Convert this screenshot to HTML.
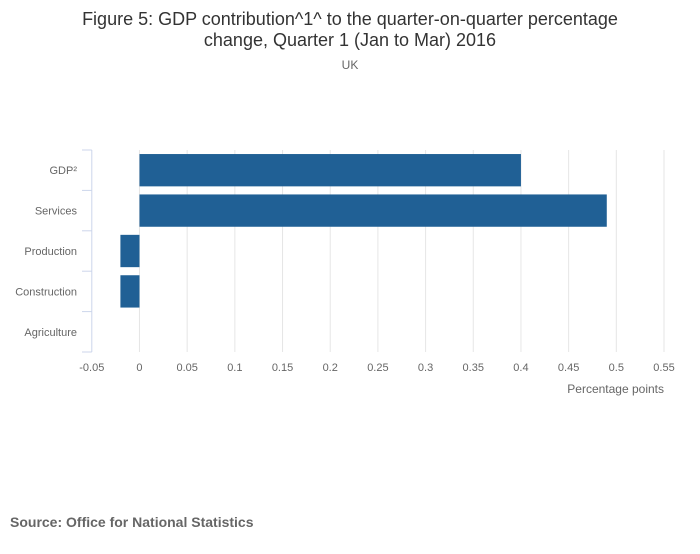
<!DOCTYPE html>
<html><head><meta charset="utf-8"><style>
body{margin:0;background:#fff;font-family:"Liberation Sans",sans-serif}
</style></head><body>
<svg width="700" height="549" xmlns="http://www.w3.org/2000/svg">
<text x="350" y="25" text-anchor="middle" font-size="18" fill="#333">Figure 5: GDP contribution^1^ to the quarter-on-quarter percentage</text>
<text x="350" y="46" text-anchor="middle" font-size="18" fill="#333">change, Quarter 1 (Jan to Mar) 2016</text>
<text x="350" y="69" text-anchor="middle" font-size="12" fill="#666">UK</text>
<g id="grid"></g><g id="bars"></g><g id="axes"></g>
<text x="664" y="393" text-anchor="end" font-size="12" fill="#666">Percentage points</text>
<text x="10" y="527" font-size="14" font-weight="bold" fill="#666">Source: Office for National Statistics</text>
</svg>
<script>
const categories=["GDP²","Services","Production","Construction","Agriculture"];
const values=[0.40,0.49,-0.02,-0.02,0];
const ticks=[-0.05,0,0.05,0.1,0.15,0.2,0.25,0.3,0.35,0.4,0.45,0.5,0.55];
const tickLabels=["-0.05","0","0.05","0.1","0.15","0.2","0.25","0.3","0.35","0.4","0.45","0.5","0.55"];
const NS="http://www.w3.org/2000/svg";
const x0=91.8,x1=664,yTop=150,yBot=352,vmin=-0.05,vmax=0.55;
const X=v=>x0+(v-vmin)/(vmax-vmin)*(x1-x0);
const band=(yBot-yTop)/categories.length;
function mk(t,a,p){const e=document.createElementNS(NS,t);for(const k in a)e.setAttribute(k,a[k]);p.appendChild(e);return e;}
const g=document.getElementById('grid'),b=document.getElementById('bars'),ax=document.getElementById('axes');
ticks.forEach((t,i)=>{
 if(i>0){const l=mk('line',{x1:X(t),x2:X(t),y1:yTop,y2:yBot,stroke:'#e6e6e6','stroke-width':1},g);
 
 }
 const tx=mk('text',{x:X(t),y:371,'text-anchor':'middle','font-size':11,fill:'#666'},ax);tx.textContent=tickLabels[i];
 
 
});
categories.forEach((c,i)=>{
 const y=yTop+i*band;
 const v=values[i];
 if(v!==0){const r=mk('rect',{x:Math.min(X(0),X(v)),y:y+band*0.1,width:Math.abs(X(v)-X(0)),height:band*0.8,fill:'#206095'},b);
 
 }
 const t=mk('text',{x:77,y:y+band/2+4,'text-anchor':'end','font-size':11,fill:'#666'},ax);t.textContent=c;
 
 
});
for(let i=0;i<=categories.length;i++){const y=yTop+i*band;
 const l=mk('line',{x1:82,x2:x0,y1:y,y2:y,stroke:'#ccd6eb','stroke-width':1},ax);
 
 }
const al=mk('line',{x1:x0,x2:x0,y1:yTop,y2:yBot,stroke:'#ccd6eb','stroke-width':1},ax);


</script>
</body></html>
